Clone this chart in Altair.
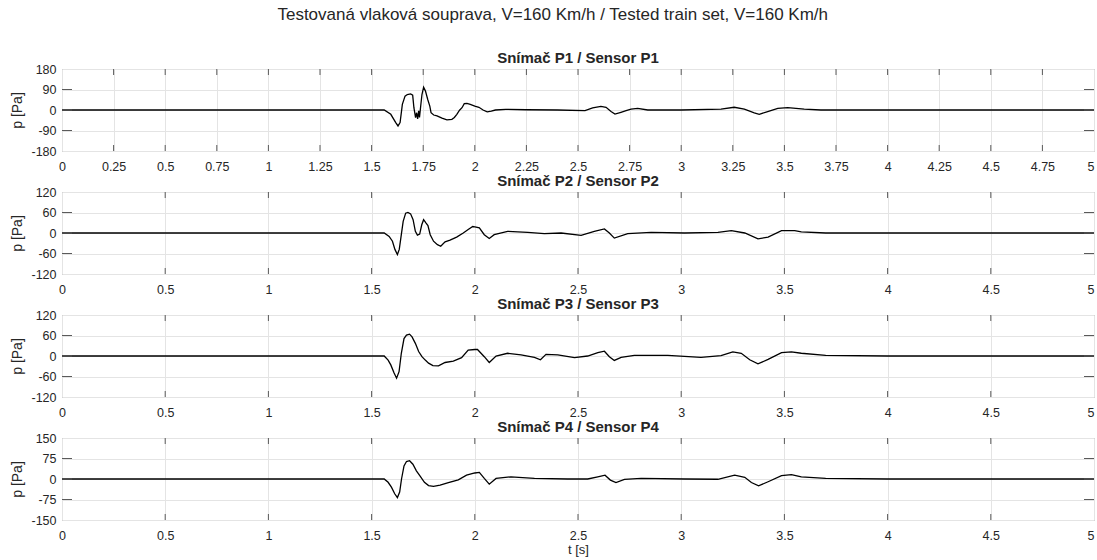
import altair as alt
import pandas as pd

FONT = "Liberation Sans"
TXT = "#262626"
GRID = "#e4e4e4"
BOX = "#8a8a8a"
TICKC = "#5a5a5a"

MAIN_TITLE = "Testovaná vlaková souprava, V=160 Km/h / Tested train set, V=160 Km/h"
PANEL_TITLES = ["Snímač P1 / Sensor P1", "Snímač P2 / Sensor P2",
                "Snímač P3 / Sensor P3", "Snímač P4 / Sensor P4"]
Y_LIMITS = [180, 120, 120, 150]
X_TICKS_FINE = [0, 0.25, 0.5, 0.75, 1, 1.25, 1.5, 1.75, 2, 2.25, 2.5, 2.75,
                3, 3.25, 3.5, 3.75, 4, 4.25, 4.5, 4.75, 5]
X_TICKS_COARSE = [0, 0.5, 1, 1.5, 2, 2.5, 3, 3.5, 4, 4.5, 5]

# (time [s], pressure [Pa])
P1 = [(0, 0), (0.5, 0), (1.0, 0), (1.4, 0), (1.561, 0), (1.593, -19), (1.617, -55),
      (1.628, -70), (1.638, -55), (1.649, 25), (1.662, 61), (1.673, 68), (1.689, 71),
      (1.699, 65), (1.705, 10), (1.713, -33), (1.718, -12), (1.723, -39), (1.728, -4),
      (1.732, -33), (1.737, 10), (1.744, 68), (1.752, 100), (1.761, 83), (1.772, 46),
      (1.782, 17), (1.788, -12), (1.801, -22), (1.817, -26), (1.841, -36), (1.865, -43),
      (1.889, -41), (1.901, -33), (1.913, -19), (1.926, -1), (1.938, 10), (1.949, 28),
      (1.962, 29), (1.978, 25), (2.0, 17), (2.02, 12), (2.04, 0), (2.06, -8), (2.08, -5),
      (2.1, 0), (2.15, 3), (2.25, 1), (2.4, 0), (2.534, -3), (2.571, 9), (2.611, 16),
      (2.636, 12), (2.660, -7), (2.679, -18), (2.708, -10), (2.733, -3), (2.757, 4),
      (2.789, 7), (2.838, 0), (3.0, 0), (3.193, 4), (3.257, 12), (3.306, 4), (3.354, -13),
      (3.378, -19), (3.419, -7), (3.468, 7), (3.516, 10), (3.596, 4), (3.677, 0),
      (4.0, 0), (4.5, 0), (5.0, 0)]

P2 = [(0, 0), (0.5, 0), (1.0, 0), (1.5, 0), (1.561, 0), (1.585, -10), (1.601, -24),
      (1.613, -48), (1.625, -63), (1.634, -48), (1.644, -5), (1.653, 34), (1.665, 58),
      (1.676, 60), (1.689, 56), (1.701, 39), (1.712, 5), (1.722, -6), (1.733, -3),
      (1.743, 24), (1.752, 39), (1.764, 29), (1.773, 22), (1.784, -5), (1.800, -24),
      (1.819, -34), (1.835, -39), (1.856, -26), (1.880, -21), (1.912, -12), (1.944, 0),
      (1.968, 10), (1.990, 19), (2.0, 18), (2.022, 15), (2.046, -5), (2.070, -16),
      (2.094, -5), (2.159, 5), (2.256, 2), (2.337, -2), (2.418, 0), (2.515, -7),
      (2.579, 5), (2.628, 12), (2.652, 0), (2.676, -15), (2.741, -2), (2.854, 2),
      (3.016, 0), (3.178, 2), (3.243, 7), (3.308, 0), (3.372, -17), (3.421, -12),
      (3.486, 7), (3.550, 7), (3.582, 3), (3.7, 0), (4.0, 0), (4.5, 0), (5.0, 0)]

P3 = [(0, 0), (0.5, 0), (1.0, 0), (1.5, 0), (1.561, 0), (1.580, -12), (1.593, -26),
      (1.609, -50), (1.621, -65), (1.633, -46), (1.644, 8), (1.657, 51), (1.669, 61),
      (1.684, 64), (1.696, 56), (1.712, 37), (1.728, 13), (1.744, -2), (1.760, -12),
      (1.776, -21), (1.797, -28), (1.824, -29), (1.856, -19), (1.896, -15), (1.936, -5),
      (1.968, 17), (2.0, 19), (2.013, 19), (2.046, -2), (2.070, -19), (2.103, 0),
      (2.159, 8), (2.224, 3), (2.289, -4), (2.318, -11), (2.345, 5), (2.402, 3),
      (2.483, -5), (2.547, 0), (2.596, 10), (2.628, 14), (2.652, -2), (2.676, -13),
      (2.709, -4), (2.773, 2), (2.935, 2), (3.096, -4), (3.193, 1), (3.250, 12),
      (3.291, 8), (3.332, -11), (3.372, -23), (3.421, -10), (3.486, 10), (3.534, 12),
      (3.582, 8), (3.7, 2), (4.0, 0), (4.5, 0), (5.0, 0)]

P4 = [(0, 0), (0.5, 0), (1.0, 0), (1.5, 0), (1.561, 0), (1.580, -12), (1.596, -30),
      (1.612, -54), (1.625, -68), (1.636, -48), (1.645, 0), (1.657, 48), (1.669, 64),
      (1.684, 67), (1.700, 54), (1.717, 30), (1.736, 10), (1.756, -12), (1.776, -24),
      (1.800, -27), (1.832, -22), (1.872, -13), (1.920, -3), (1.960, 14), (2.0, 22),
      (2.022, 24), (2.046, 2), (2.070, -19), (2.103, 2), (2.175, 8), (2.289, 2),
      (2.450, 0), (2.547, 0), (2.596, 8), (2.631, 14), (2.657, -4), (2.684, -13),
      (2.725, -1), (2.806, 2), (3.016, 0), (3.178, -1), (3.259, 14), (3.308, 6),
      (3.340, -13), (3.375, -25), (3.421, -10), (3.486, 12), (3.534, 16), (3.582, 8),
      (3.7, 2), (4.0, 0), (4.5, 0), (5.0, 0)]

SERIES = [P1, P2, P3, P4]
X_TICK_SETS = [X_TICKS_FINE, X_TICKS_COARSE, X_TICKS_COARSE, X_TICKS_COARSE]

W = 1032
H = 82


def make_panel(title, pts, ymax, xticks, last):
    df = pd.DataFrame(pts, columns=["t", "p"])
    yticks = [-ymax, -ymax // 2, 0, ymax // 2, ymax]
    xscale = alt.Scale(domain=[0, 5], nice=False, zero=False)
    yscale = alt.Scale(domain=[-ymax, ymax], nice=False, zero=False)

    xaxis_kw = dict(values=xticks, labelExpr="'' + datum.value", grid=True,
                    gridColor=GRID, gridWidth=1, ticks=False, tickSize=0, domain=False,
                    labelPadding=9, labelFontSize=12.5, labelFont=FONT, labelColor=TXT,
                    labelOverlap=False,
                    labelAlign={"condition": {"test": "datum.value == 5", "value": "right"},
                                "value": "center"})
    if last:
        xaxis_kw.update(title="t [s]", titleFont=FONT, titleFontSize=13,
                        titleFontWeight="normal", titleColor=TXT, titlePadding=2)
    else:
        xaxis_kw.update(title="")
    xaxis = alt.Axis(**xaxis_kw)
    yaxis = alt.Axis(values=yticks, labelExpr="'' + datum.value", grid=True,
                     gridColor=GRID, gridWidth=1, ticks=False, tickSize=0, domain=False,
                     labelPadding=6, labelFontSize=12.5, labelFont=FONT, labelColor=TXT,
                     labelOverlap=False,
                     title="p [Pa]", titleFont=FONT, titleFontSize=14,
                     titleFontWeight="normal", titleColor=TXT, titlePadding=6)

    line = alt.Chart(df).mark_line(color="black", strokeWidth=1.3, clip=True).encode(
        x=alt.X("t:Q", scale=xscale, axis=xaxis),
        y=alt.Y("p:Q", scale=yscale, axis=yaxis),
    )

    xt = pd.DataFrame({"t": [v for v in xticks if 0 < v < 5]})
    yt = pd.DataFrame({"p": [v for v in yticks if -ymax < v < ymax]})
    top_ticks = alt.Chart(xt).mark_rule(color=TICKC, strokeWidth=1).encode(
        x=alt.X("t:Q", scale=xscale, axis=xaxis), y=alt.value(0), y2=alt.value(6))
    bot_ticks = alt.Chart(xt).mark_rule(color=TICKC, strokeWidth=1).encode(
        x=alt.X("t:Q", scale=xscale, axis=xaxis), y=alt.value(H - 6), y2=alt.value(H))
    left_ticks = alt.Chart(yt).mark_rule(color=TICKC, strokeWidth=1).encode(
        y=alt.Y("p:Q", scale=yscale, axis=yaxis), x=alt.value(0), x2=alt.value(10))
    right_ticks = alt.Chart(yt).mark_rule(color=TICKC, strokeWidth=1).encode(
        y=alt.Y("p:Q", scale=yscale, axis=yaxis), x=alt.value(W - 10), x2=alt.value(W))

    return alt.layer(line, top_ticks, bot_ticks, left_ticks, right_ticks).properties(
        width=W, height=H,
        title=alt.TitleParams(text=title, font=FONT, fontSize=15, fontWeight="bold",
                              color=TXT, offset=-3),
    )


panels = [make_panel(PANEL_TITLES[i], SERIES[i], Y_LIMITS[i], X_TICK_SETS[i], i == 3)
          for i in range(4)]

chart = alt.vconcat(*panels, spacing=0).properties(
    title=alt.TitleParams(text=MAIN_TITLE, font=FONT, fontSize=17, fontWeight="normal",
                          color=TXT, anchor="middle", offset=27),
    padding={"left": 10, "top": 5, "right": 0, "bottom": 0},
    background="white",
).configure_view(stroke=BOX, strokeWidth=1)

chart.save("out.html", embed_options={"renderer": "svg", "actions": False})
